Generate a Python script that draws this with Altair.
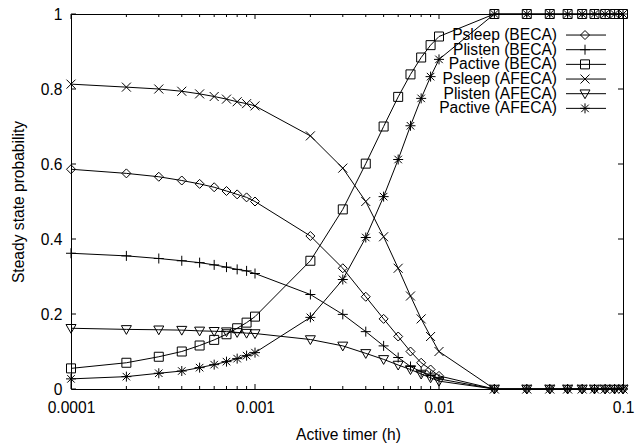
import altair as alt
import pandas as pd

# Active timer values (hours)
timer = [0.0001, 0.0002, 0.0003, 0.0004, 0.0005, 0.0006, 0.0007, 0.0008, 0.0009, 0.001,
         0.002, 0.003, 0.004, 0.005, 0.006, 0.007, 0.008, 0.009, 0.01,
         0.02, 0.03, 0.04, 0.05, 0.06, 0.07, 0.08, 0.09, 0.1]

series_names = ["Psleep (BECA)", "Plisten (BECA)", "Pactive (BECA)",
                "Psleep (AFECA)", "Plisten (AFECA)", "Pactive (AFECA)"]

psleep_beca = [0.586, 0.575, 0.566, 0.556, 0.547, 0.538, 0.528, 0.519, 0.511, 0.500,
               0.408, 0.322, 0.246, 0.187, 0.140, 0.100, 0.070, 0.052, 0.035,
               0, 0, 0, 0, 0, 0, 0, 0, 0]
plisten_beca = [0.362, 0.355, 0.348, 0.342, 0.337, 0.331, 0.325, 0.319, 0.315, 0.308,
                0.252, 0.199, 0.153, 0.115, 0.084, 0.060, 0.046, 0.036, 0.027,
                0, 0, 0, 0, 0, 0, 0, 0, 0]
pactive_beca = [0.055, 0.070, 0.086, 0.100, 0.116, 0.131, 0.146, 0.162, 0.177, 0.193,
                0.342, 0.479, 0.601, 0.700, 0.779, 0.839, 0.884, 0.917, 0.940,
                1, 1, 1, 1, 1, 1, 1, 1, 1]
psleep_afeca = [0.813, 0.805, 0.800, 0.794, 0.787, 0.780, 0.773, 0.766, 0.761, 0.755,
                0.675, 0.589, 0.500, 0.406, 0.322, 0.248, 0.187, 0.140, 0.100,
                0, 0, 0, 0, 0, 0, 0, 0, 0]
plisten_afeca = [0.162, 0.159, 0.158, 0.157, 0.155, 0.154, 0.153, 0.151, 0.149, 0.148,
                 0.132, 0.115, 0.095, 0.079, 0.064, 0.052, 0.040, 0.030, 0.021,
                 0, 0, 0, 0, 0, 0, 0, 0, 0]
pactive_afeca = [0.027, 0.033, 0.042, 0.048, 0.057, 0.065, 0.073, 0.081, 0.089, 0.097,
                 0.191, 0.292, 0.404, 0.513, 0.612, 0.702, 0.775, 0.833, 0.879,
                 1, 1, 1, 1, 1, 1, 1, 1, 1]

series_values = [psleep_beca, plisten_beca, pactive_beca,
                 psleep_afeca, plisten_afeca, pactive_afeca]

# gnuplot-style open point symbols as SVG paths (unit box)
symbol_paths = [
    "M0,-0.9L0.9,0L0,0.9L-0.9,0Z",                              # diamond
    "M-1,0L1,0M0,-1L0,1",                                        # plus
    "M-0.9,-0.9L0.9,-0.9L0.9,0.9L-0.9,0.9Z",                     # square
    "M-0.9,-0.9L0.9,0.9M-0.9,0.9L0.9,-0.9",                      # x
    "M-1,-0.75L1,-0.75L0,1Z",                                    # triangle down
    "M-1,0L1,0M0,-1L0,1M-0.75,-0.75L0.75,0.75M-0.75,0.75L0.75,-0.75",  # asterisk
]

x_label_values = [0.0001, 0.001, 0.01, 0.1]
y_label_values = [0, 0.2, 0.4, 0.6, 0.8, 1]
minor_x = [m * d for d in [0.0001, 0.001, 0.01] for m in range(2, 10)]

rows = []
for name, vals in zip(series_names, series_values):
    for t, v in zip(timer, vals):
        rows.append({"timer": t, "prob": v, "series": name})
df = pd.DataFrame(rows)

W, H = 552, 375
FONT = "Liberation Sans"
FS = 15.6

x_scale = alt.Scale(type="log", domain=[0.0001, 0.1], nice=False)
y_scale = alt.Scale(domain=[0, 1], nice=False, zero=False)

x_axis = alt.Axis(values=x_label_values, format="~g", title="Active timer (h)",
                  ticks=False, tickSize=0, domain=False, grid=False,
                  labelPadding=18, labelBaseline="middle", labelFlush=False,
                  labelFont=FONT, labelFontSize=FS, labelColor="black",
                  titleFont=FONT, titleFontSize=FS, titleFontWeight="normal",
                  titleColor="black", titleX=W / 2 + 1, titleY=45,
                  titleBaseline="middle", titleAlign="center")
y_axis = alt.Axis(values=y_label_values, format="~g", title="Steady state probability",
                  ticks=False, tickSize=0, domain=False, grid=False,
                  labelPadding=9, labelFlush=False,
                  labelFont=FONT, labelFontSize=FS, labelColor="black",
                  titleFont=FONT, titleFontSize=FS, titleFontWeight="normal",
                  titleColor="black", titleX=-53, titleY=H / 2,
                  titleBaseline="middle", titleAlign="center", titleAngle=270)

X = alt.X("timer:Q", scale=x_scale, axis=x_axis)
Y = alt.Y("prob:Q", scale=y_scale, axis=y_axis)
shape_enc = alt.Shape("series:N", scale=alt.Scale(domain=series_names, range=symbol_paths),
                      legend=None)

lines = alt.Chart(df).mark_line(color="black", strokeWidth=1).encode(
    x=X, y=Y, detail="series:N")
points = alt.Chart(df).mark_point(filled=False, color="black", strokeWidth=1,
                                  size=100, opacity=1).encode(x=X, y=Y, shape=shape_enc)

# inward tick marks on all four sides
def x_ticks(values, length):
    d = pd.DataFrame({"timer": values})
    Xt = alt.X("timer:Q", scale=x_scale, axis=x_axis)
    bottom = alt.Chart(d).mark_rule(color="black", strokeWidth=1).encode(
        x=Xt, y=alt.value(H), y2=alt.value(H - length))
    top = alt.Chart(d).mark_rule(color="black", strokeWidth=1).encode(
        x=Xt, y=alt.value(0), y2=alt.value(length))
    return [bottom, top]

yt = pd.DataFrame({"prob": y_label_values})
Yt = alt.Y("prob:Q", scale=y_scale, axis=y_axis)
y_left = alt.Chart(yt).mark_rule(color="black", strokeWidth=1).encode(
    y=Yt, x=alt.value(0), x2=alt.value(5))
y_right = alt.Chart(yt).mark_rule(color="black", strokeWidth=1).encode(
    y=Yt, x=alt.value(W), x2=alt.value(W - 5))

main = alt.layer(*x_ticks(x_label_values, 5), *x_ticks(minor_x, 3),
                 y_left, y_right, lines, points)

# key in the upper right: label, then line sample with its symbol
leg_df = pd.DataFrame({"series": series_names})
leg_y = alt.Y("series:N", axis=None,
              scale=alt.Scale(domain=series_names, range=[13.7, 101.7], padding=0))
leg_text = alt.Chart(leg_df).mark_text(align="right", baseline="middle", font=FONT,
                                       fontSize=FS, color="black").encode(
    x=alt.value(486), y=leg_y, text="series:N")
leg_rule = alt.Chart(leg_df).mark_rule(color="black", strokeWidth=1).encode(
    x=alt.value(495), x2=alt.value(535), y=leg_y)
leg_pts = alt.Chart(leg_df).mark_point(filled=False, color="black", strokeWidth=1,
                                       size=100, opacity=1).encode(
    x=alt.value(514), y=leg_y, shape=shape_enc)
legend = alt.layer(leg_rule, leg_pts, leg_text)

chart = alt.layer(main, legend).resolve_scale(y="independent").properties(
    width=W, height=H,
    padding={"left": 71, "top": 14, "right": 16, "bottom": 55},
    autosize=alt.AutoSizeParams(type="none"),
    background="white",
).configure_view(stroke="black", strokeWidth=1)

chart.save("out.html", embed_options={"renderer": "svg", "actions": False})
